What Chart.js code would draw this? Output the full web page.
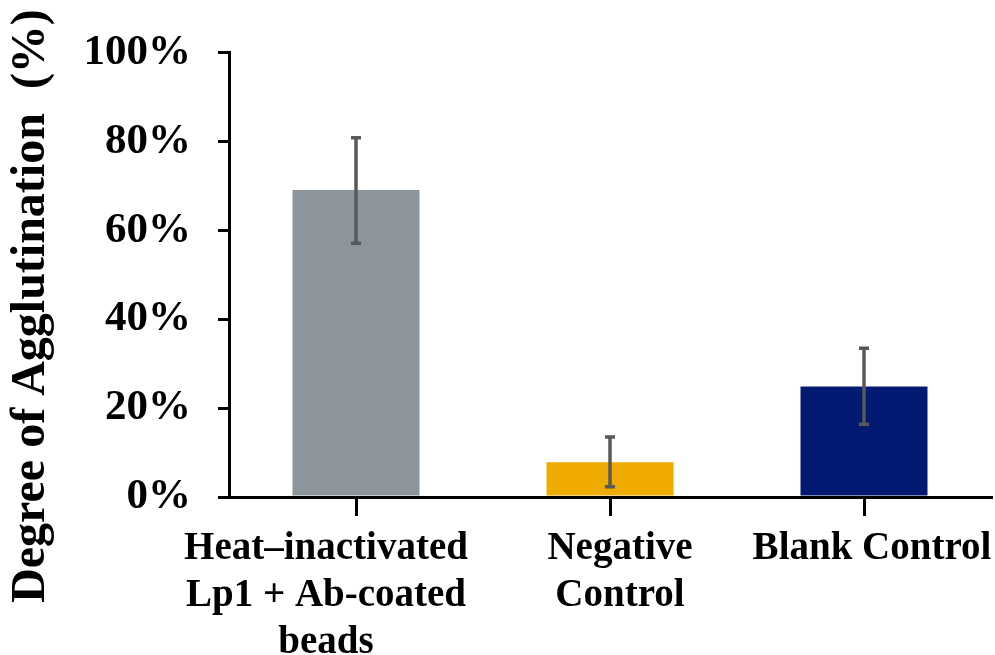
<!DOCTYPE html>
<html>
<head>
<meta charset="utf-8">
<script src="https://cdn.jsdelivr.net/npm/chart.js@4.4.1/dist/chart.umd.min.js"></script>
<style>
  html, body { margin: 0; padding: 0; background: #fff; }
  canvas { display: block; }
</style>
</head>
<body>
<canvas id="chart" width="995" height="655"></canvas>
<script>
const categories = [
    ['Heat–inactivated', 'Lp1 + Ab-coated', 'beads'],
    ['Negative', 'Control'],
    ['Blank Control']
];
const agglutination = [69.1, 7.8, 24.9];
const errLow = [57.1, 2.3, 16.4];
const errHigh = [80.9, 13.5, 33.5];
const barColors = ['#8C959C', '#F0AB00', '#021A72'];
const yTitle = 'Degree of Agglutination  (%)';

const serif = "'Liberation Serif', 'Times New Roman', serif";
// labels in the figure sit a little off their tick marks
const labelShift = [-30, 10, 8];

const errorBars = {
    id: 'errorBars',
    afterDatasetsDraw(chart) {
        const ctx = chart.ctx,
            yScale = chart.scales.y,
            meta = chart.getDatasetMeta(0);
        ctx.save();
        ctx.strokeStyle = '#595959';
        ctx.lineWidth = 3.5;
        meta.data.forEach((bar, i) => {
            const x = bar.x,
                lo = yScale.getPixelForValue(errLow[i]),
                hi = yScale.getPixelForValue(errHigh[i]);
            ctx.beginPath();
            ctx.moveTo(x, lo);
            ctx.lineTo(x, hi);
            ctx.moveTo(x - 5, lo);
            ctx.lineTo(x + 5, lo);
            ctx.moveTo(x - 5, hi);
            ctx.lineTo(x + 5, hi);
            ctx.stroke();
        });
        ctx.restore();
    }
};

const textBits = {
    id: 'textBits',
    afterDraw(chart) {
        const ctx = chart.ctx,
            xScale = chart.scales.x,
            area = chart.chartArea;
        ctx.save();
        ctx.fillStyle = '#000';
        ctx.font = `bold 39px ${serif}`;
        ctx.textAlign = 'center';
        ctx.textBaseline = 'alphabetic';
        categories.forEach((lines, i) => {
            const x = xScale.getPixelForTick(i) + labelShift[i];
            lines.forEach((line, k) => {
                ctx.fillText(line, x, area.bottom + 62 + k * 47);
            });
        });
        ctx.translate(32, 306);
        ctx.rotate(-Math.PI / 2);
        ctx.font = `bold 48px ${serif}`;
        ctx.textBaseline = 'middle';
        ctx.fillText(yTitle, 0, 0);
        ctx.restore();
    }
};

new Chart(document.getElementById('chart'), {
    type: 'bar',
    data: {
        labels: categories,
        datasets: [{
            data: agglutination,
            backgroundColor: barColors,
            borderWidth: 0,
            barPercentage: 0.5,
            categoryPercentage: 1
        }]
    },
    options: {
        responsive: false,
        animation: false,
        layout: { padding: { top: 51, right: 4, left: 0, bottom: 0 } },
        plugins: {
            legend: { display: false },
            tooltip: { enabled: false }
        },
        scales: {
            x: {
                afterFit(scale) { scale.height = 158; },
                border: { display: true, color: '#000', width: 3 },
                grid: {
                    offset: false,
                    drawOnChartArea: false,
                    drawTicks: true,
                    tickLength: 19,
                    color: '#000',
                    lineWidth: 3
                },
                ticks: { display: false }
            },
            y: {
                min: 0,
                max: 100,
                afterFit(scale) { scale.width = 229; },
                border: { display: true, color: '#000', width: 3 },
                grid: {
                    drawOnChartArea: false,
                    drawTicks: true,
                    tickLength: 11,
                    color: '#000',
                    lineWidth: 3
                },
                ticks: {
                    stepSize: 20,
                    padding: 27,
                    color: '#000',
                    font: { family: serif, size: 43, weight: 'bold' },
                    callback: v => v + '%'
                }
            }
        }
    },
    plugins: [errorBars, textBits]
});
</script>
</body>
</html>
